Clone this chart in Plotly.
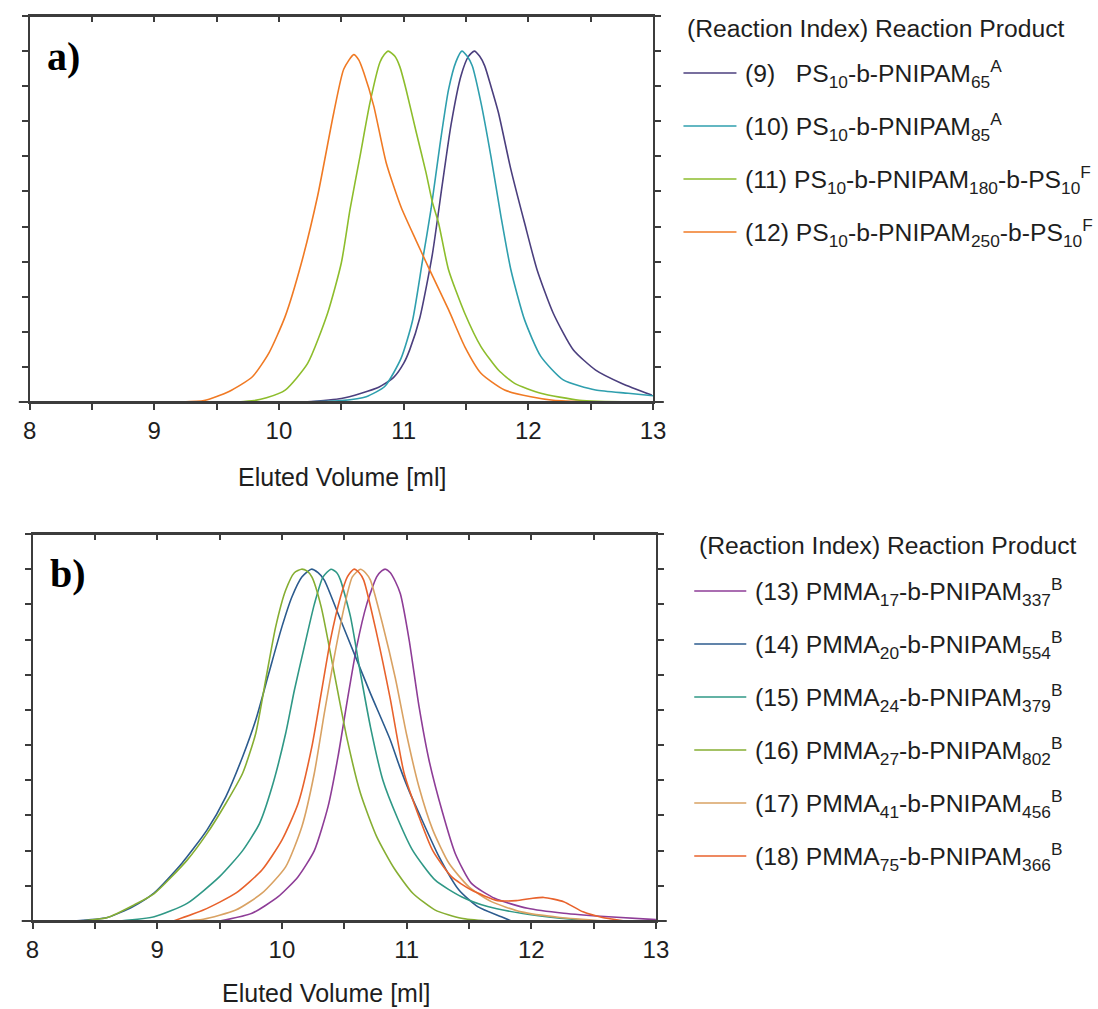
import plotly.graph_objects as go

W, H = 1098, 1009

# ---------------- Panel a data (Eluted volume [ml], normalised signal) ----------------
names_a = [
    "(9)&nbsp;&nbsp;&nbsp;PS<sub>10</sub>-b-PNIPAM<sub>65</sub><sup>A</sup>",
    "(10) PS<sub>10</sub>-b-PNIPAM<sub>85</sub><sup>A</sup>",
    "(11) PS<sub>10</sub>-b-PNIPAM<sub>180</sub>-b-PS<sub>10</sub><sup>F</sup>",
    "(12) PS<sub>10</sub>-b-PNIPAM<sub>250</sub>-b-PS<sub>10</sub><sup>F</sup>",
]
colors_a = ["#4b3f7e", "#2f9fae", "#8dbd2c", "#f07a24"]

vol_9 = [10.2, 10.5, 10.66, 10.8, 10.92, 11.0, 11.05, 11.13, 11.23, 11.31, 11.38, 11.46, 11.52,
         11.567, 11.61, 11.65, 11.70, 11.76, 11.86, 11.97, 12.07, 12.20, 12.36, 12.54, 12.75, 12.99]
sig_9 = [0.0, 0.01, 0.025, 0.042, 0.07, 0.11, 0.15, 0.24, 0.42, 0.62, 0.79, 0.93, 0.985,
         1.0, 0.985, 0.958, 0.90, 0.825, 0.663, 0.51, 0.377, 0.253, 0.149, 0.091, 0.053, 0.02]

vol_10 = [10.2, 10.5, 10.7, 10.85, 10.98, 11.07, 11.15, 11.22, 11.29, 11.36, 11.42, 11.467,
          11.51, 11.55, 11.62, 11.70, 11.78, 11.86, 11.97, 12.10, 12.28, 12.54, 12.80, 13.0]
sig_10 = [0.0, 0.004, 0.015, 0.045, 0.125, 0.23, 0.40, 0.55, 0.73, 0.89, 0.97, 1.0,
          0.985, 0.958, 0.853, 0.70, 0.53, 0.377, 0.234, 0.13, 0.063, 0.034, 0.025, 0.018]

vol_11 = [9.67, 9.8, 9.9, 10.05, 10.23, 10.39, 10.50, 10.57, 10.65, 10.73, 10.81, 10.845, 10.876,
          10.93, 10.97, 11.02, 11.10, 11.18, 11.23, 11.28, 11.36, 11.49, 11.62, 11.76, 11.89,
          12.10, 12.41, 12.84]
sig_11 = [0.0, 0.004, 0.012, 0.034, 0.11, 0.253, 0.396, 0.549, 0.70, 0.853, 0.968, 0.99, 1.0,
          0.985, 0.955, 0.89, 0.77, 0.653, 0.57, 0.51, 0.377, 0.253, 0.158, 0.091, 0.053,
          0.025, 0.005, 0.0]

vol_12 = [8.86, 9.2, 9.4, 9.6, 9.787, 9.92, 10.05, 10.18, 10.31, 10.44, 10.52, 10.60, 10.64,
          10.68, 10.76, 10.86, 10.98, 11.10, 11.20, 11.36, 11.49, 11.62, 11.81, 12.02, 12.2, 12.5]
sig_12 = [0.0, 0.0, 0.004, 0.03, 0.072, 0.14, 0.244, 0.396, 0.587, 0.825, 0.949, 0.99, 0.975,
          0.939, 0.844, 0.682, 0.555, 0.46, 0.383, 0.263, 0.158, 0.082, 0.034, 0.015, 0.005, 0.0]

# ---------------- Panel b data ----------------
names_b = [
    "(13) PMMA<sub>17</sub>-b-PNIPAM<sub>337</sub><sup>B</sup>",
    "(14) PMMA<sub>20</sub>-b-PNIPAM<sub>554</sub><sup>B</sup>",
    "(15) PMMA<sub>24</sub>-b-PNIPAM<sub>379</sub><sup>B</sup>",
    "(16) PMMA<sub>27</sub>-b-PNIPAM<sub>802</sub><sup>B</sup>",
    "(17) PMMA<sub>41</sub>-b-PNIPAM<sub>456</sub><sup>B</sup>",
    "(18) PMMA<sub>75</sub>-b-PNIPAM<sub>366</sub><sup>B</sup>",
]
colors_b = ["#8e3d97", "#2c5b8e", "#2f9886", "#86ae32", "#d9a263", "#e8622c"]

vol_13 = [9.5, 9.76, 9.97, 10.13, 10.26, 10.37, 10.45, 10.525, 10.60, 10.68, 10.76, 10.80, 10.83,
          10.87, 10.91, 10.95, 11.02, 11.10, 11.18, 11.29, 11.39, 11.52, 11.71, 11.97, 12.26,
          12.62, 13.0]
sig_13 = [0.0, 0.022, 0.069, 0.126, 0.20, 0.325, 0.467, 0.628, 0.78, 0.90, 0.978, 0.995, 1.0,
          0.99, 0.965, 0.93, 0.80, 0.609, 0.457, 0.306, 0.192, 0.107, 0.064, 0.036, 0.022,
          0.012, 0.004]

vol_14 = [8.33, 8.6, 8.8, 8.976, 9.2, 9.40, 9.55, 9.685, 9.79, 9.895, 10.0, 10.08, 10.16, 10.236,
          10.29, 10.34, 10.45, 10.58, 10.71, 10.87, 10.945, 11.02, 11.10, 11.26, 11.42, 11.57,
          11.76, 11.84]
sig_14 = [0.0, 0.01, 0.04, 0.08, 0.165, 0.259, 0.353, 0.467, 0.571, 0.704, 0.836, 0.921, 0.978,
          1.0, 0.99, 0.969, 0.874, 0.76, 0.647, 0.514, 0.438, 0.37, 0.306, 0.183, 0.088, 0.041,
          0.012, 0.0]

vol_15 = [8.7, 8.976, 9.24, 9.50, 9.685, 9.82, 9.92, 10.03, 10.10, 10.18, 10.26, 10.33, 10.394,
          10.44, 10.47, 10.55, 10.63, 10.71, 10.81, 10.93, 11.05, 11.23, 11.44, 11.65, 11.92,
          12.23, 12.5]
sig_15 = [0.0, 0.012, 0.05, 0.126, 0.20, 0.277, 0.38, 0.533, 0.656, 0.78, 0.90, 0.978, 1.0,
          0.99, 0.969, 0.865, 0.704, 0.552, 0.40, 0.29, 0.20, 0.116, 0.069, 0.041, 0.022,
          0.008, 0.0]

vol_16 = [8.39, 8.6, 8.81, 8.976, 9.24, 9.40, 9.55, 9.685, 9.79, 9.87, 9.95, 10.03, 10.10,
          10.157, 10.20, 10.24, 10.315, 10.42, 10.525, 10.63, 10.76, 10.90, 11.05, 11.23,
          11.44, 11.65]
sig_16 = [0.0, 0.01, 0.045, 0.078, 0.173, 0.249, 0.334, 0.42, 0.533, 0.685, 0.836, 0.94, 0.99,
          1.0, 0.995, 0.978, 0.893, 0.704, 0.514, 0.363, 0.24, 0.15, 0.079, 0.031, 0.008, 0.0]

vol_17 = [9.2, 9.37, 9.63, 9.84, 10.03, 10.16, 10.26, 10.34, 10.42, 10.50, 10.565, 10.63,
          10.67, 10.71, 10.81, 10.91, 11.0, 11.10, 11.21, 11.34, 11.50, 11.68, 11.92, 12.23, 12.6]
sig_17 = [0.0, 0.005, 0.031, 0.079, 0.154, 0.268, 0.42, 0.59, 0.751, 0.893, 0.978, 1.0,
          0.99, 0.969, 0.84, 0.69, 0.53, 0.38, 0.259, 0.164, 0.097, 0.055, 0.026, 0.01, 0.0]

vol_18 = [9.13, 9.37, 9.63, 9.84, 10.0, 10.13, 10.24, 10.315, 10.39, 10.47, 10.525, 10.577,
          10.62, 10.656, 10.76, 10.87, 10.98, 11.10, 11.21, 11.36, 11.52, 11.73, 11.88, 12.0,
          12.10, 12.26, 12.415, 12.57, 12.75]
sig_18 = [0.0, 0.031, 0.079, 0.145, 0.23, 0.334, 0.495, 0.647, 0.80, 0.921, 0.978, 1.0,
          0.99, 0.969, 0.817, 0.63, 0.42, 0.296, 0.20, 0.126, 0.088, 0.058, 0.058, 0.064,
          0.067, 0.055, 0.026, 0.01, 0.0]

x_tickvals = [8, 9, 10, 11, 12, 13]
x_ticktext = ["8", "9", "10", "11", "12", "13"]
x_title = "Eluted Volume [ml]"
legend_title = "(Reaction Index) Reaction Product"

series_a = [(vol_9, sig_9), (vol_10, sig_10), (vol_11, sig_11), (vol_12, sig_12)]
series_b = [(vol_13, sig_13), (vol_14, sig_14), (vol_15, sig_15),
            (vol_16, sig_16), (vol_17, sig_17), (vol_18, sig_18)]

FONT = "Liberation Sans, Arial, sans-serif"
AX = "#3c3c3c"
TXT = "#1e1e1e"
FS = 24.7


def px_x(p):
    return p / W


def px_y(p):
    return 1 - p / H


fig = go.Figure()
for (xv, yv), nm, c in zip(series_a, names_a, colors_a):
    fig.add_trace(go.Scatter(x=xv, y=yv, mode="lines", name=nm, showlegend=False,
                             line=dict(color=c, width=1.6, shape="spline", smoothing=0.6),
                             xaxis="x", yaxis="y"))
for (xv, yv), nm, c in zip(series_b, names_b, colors_b):
    fig.add_trace(go.Scatter(x=xv, y=yv, mode="lines", name=nm, showlegend=False,
                             line=dict(color=c, width=1.6, shape="spline", smoothing=0.6),
                             xaxis="x2", yaxis="y2"))
# empty traces so that the top (frame) axes are drawn
for xa, ya in (("x3", "y"), ("x4", "y2")):
    fig.add_trace(go.Scatter(x=x_tickvals, y=[None] * len(x_tickvals), mode="lines",
                             showlegend=False, hoverinfo="skip", xaxis=xa, yaxis=ya))


def xaxis_main(dom, anchor):
    return dict(domain=dom, anchor=anchor, range=[8, 13], tickmode="array",
                tickvals=x_tickvals, ticktext=x_ticktext, ticks="outside", ticklen=6,
                tickwidth=1.5, tickcolor=AX, showline=True, linewidth=1.8, linecolor=AX,
                minor=dict(dtick=0.5, tick0=8, ticks="outside", ticklen=6, tickwidth=1.5,
                           tickcolor=AX),
                tickfont=dict(family=FONT, size=24, color=TXT), showgrid=False,
                zeroline=False, fixedrange=True)


def xaxis_top(over, anchor):
    return dict(overlaying=over, anchor=anchor, side="top", range=[8, 13], dtick=1, tick0=8,
                ticks="inside", ticklen=6, tickwidth=1.5, tickcolor=AX, showline=True,
                linewidth=1.8, linecolor=AX, showticklabels=False, showgrid=False,
                zeroline=False,
                minor=dict(dtick=0.5, tick0=8, ticks="inside", ticklen=6, tickwidth=1.5,
                           tickcolor=AX))


def yaxis_main(dom, anchor):
    return dict(domain=dom, anchor=anchor, range=[0, 1.1], dtick=0.2, tick0=0,
                ticks="outside", ticklen=6, tickwidth=1.5, tickcolor=AX, showline=True,
                linewidth=1.8, linecolor=AX, mirror="ticks", showticklabels=False,
                showgrid=False, zeroline=False,
                minor=dict(dtick=0.1, tick0=0, ticks="outside", ticklen=6, tickwidth=1.5,
                           tickcolor=AX))


annotations = [
    dict(text="<b>a)</b>", x=px_x(58), y=px_y(57), xref="paper", yref="paper",
         showarrow=False, xanchor="center", yanchor="middle",
         font=dict(family="Liberation Serif, Times New Roman, serif", size=40, color="black")),
    dict(text="<b>b)</b>", x=px_x(62), y=px_y(573), xref="paper", yref="paper",
         showarrow=False, xanchor="center", yanchor="middle",
         font=dict(family="Liberation Serif, Times New Roman, serif", size=40, color="black")),
    dict(text=x_title, x=px_x(341), y=px_y(477), xref="paper", yref="paper",
         showarrow=False, xanchor="center", yanchor="middle",
         font=dict(family=FONT, size=25, color=TXT)),
    dict(text=x_title, x=px_x(325), y=px_y(993), xref="paper", yref="paper",
         showarrow=False, xanchor="center", yanchor="middle",
         font=dict(family=FONT, size=25, color=TXT)),
]

# small overshoot of the frame lines beyond the corners, as in the original figure
shapes = []
for xl, xr, yb, yt in ((23, 658, 402, 16), (26, 661, 921, 534)):
    shapes.append(dict(type="line", xref="paper", yref="paper", x0=px_x(xl - 11),
                       x1=px_x(xr + 11), y0=px_y(yb), y1=px_y(yb),
                       line=dict(color=AX, width=1.8)))
    shapes.append(dict(type="line", xref="paper", yref="paper", x0=px_x(xl - 6),
                       x1=px_x(xr + 6), y0=px_y(yt), y1=px_y(yt),
                       line=dict(color=AX, width=1.8)))

# legend blocks (title, line samples, labels) for each panel
legend_specs = [
    dict(title_x=691, title_y=28, line_x0=689, line_x1=743, text_x=750,
         ys=[73, 126, 179, 232], names=names_a, colors=colors_a),
    dict(title_x=703, title_y=545, line_x0=700, line_x1=753, text_x=760,
         ys=[591, 644, 697, 750, 803, 856], names=names_b, colors=colors_b),
]
for spec in legend_specs:
    annotations.append(dict(text=legend_title, x=px_x(spec["title_x"]), y=px_y(spec["title_y"]),
                            xref="paper", yref="paper", showarrow=False, xanchor="left",
                            yanchor="middle", font=dict(family=FONT, size=FS, color=TXT)))
    for yy, nm, c in zip(spec["ys"], spec["names"], spec["colors"]):
        shapes.append(dict(type="line", xref="paper", yref="paper",
                           x0=px_x(spec["line_x0"]), x1=px_x(spec["line_x1"]),
                           y0=px_y(yy), y1=px_y(yy), line=dict(color=c, width=1.6)))
        annotations.append(dict(text=nm, x=px_x(spec["text_x"]), y=px_y(yy + 1),
                                xref="paper", yref="paper", showarrow=False, xanchor="left",
                                yanchor="middle", font=dict(family=FONT, size=FS, color=TXT)))

fig.update_layout(
    width=W, height=H,
    margin=dict(l=0, r=0, t=0, b=0),
    paper_bgcolor="white", plot_bgcolor="white",
    showlegend=False,
    xaxis=xaxis_main([px_x(23), px_x(658)], "y"),
    yaxis=yaxis_main([px_y(402), px_y(16)], "x"),
    xaxis3=xaxis_top("x", "y"),
    xaxis2=xaxis_main([px_x(26), px_x(661)], "y2"),
    yaxis2=yaxis_main([px_y(921), px_y(534)], "x2"),
    xaxis4=xaxis_top("x2", "y2"),
    annotations=annotations,
    shapes=shapes,
)

fig.write_html("out.html")
